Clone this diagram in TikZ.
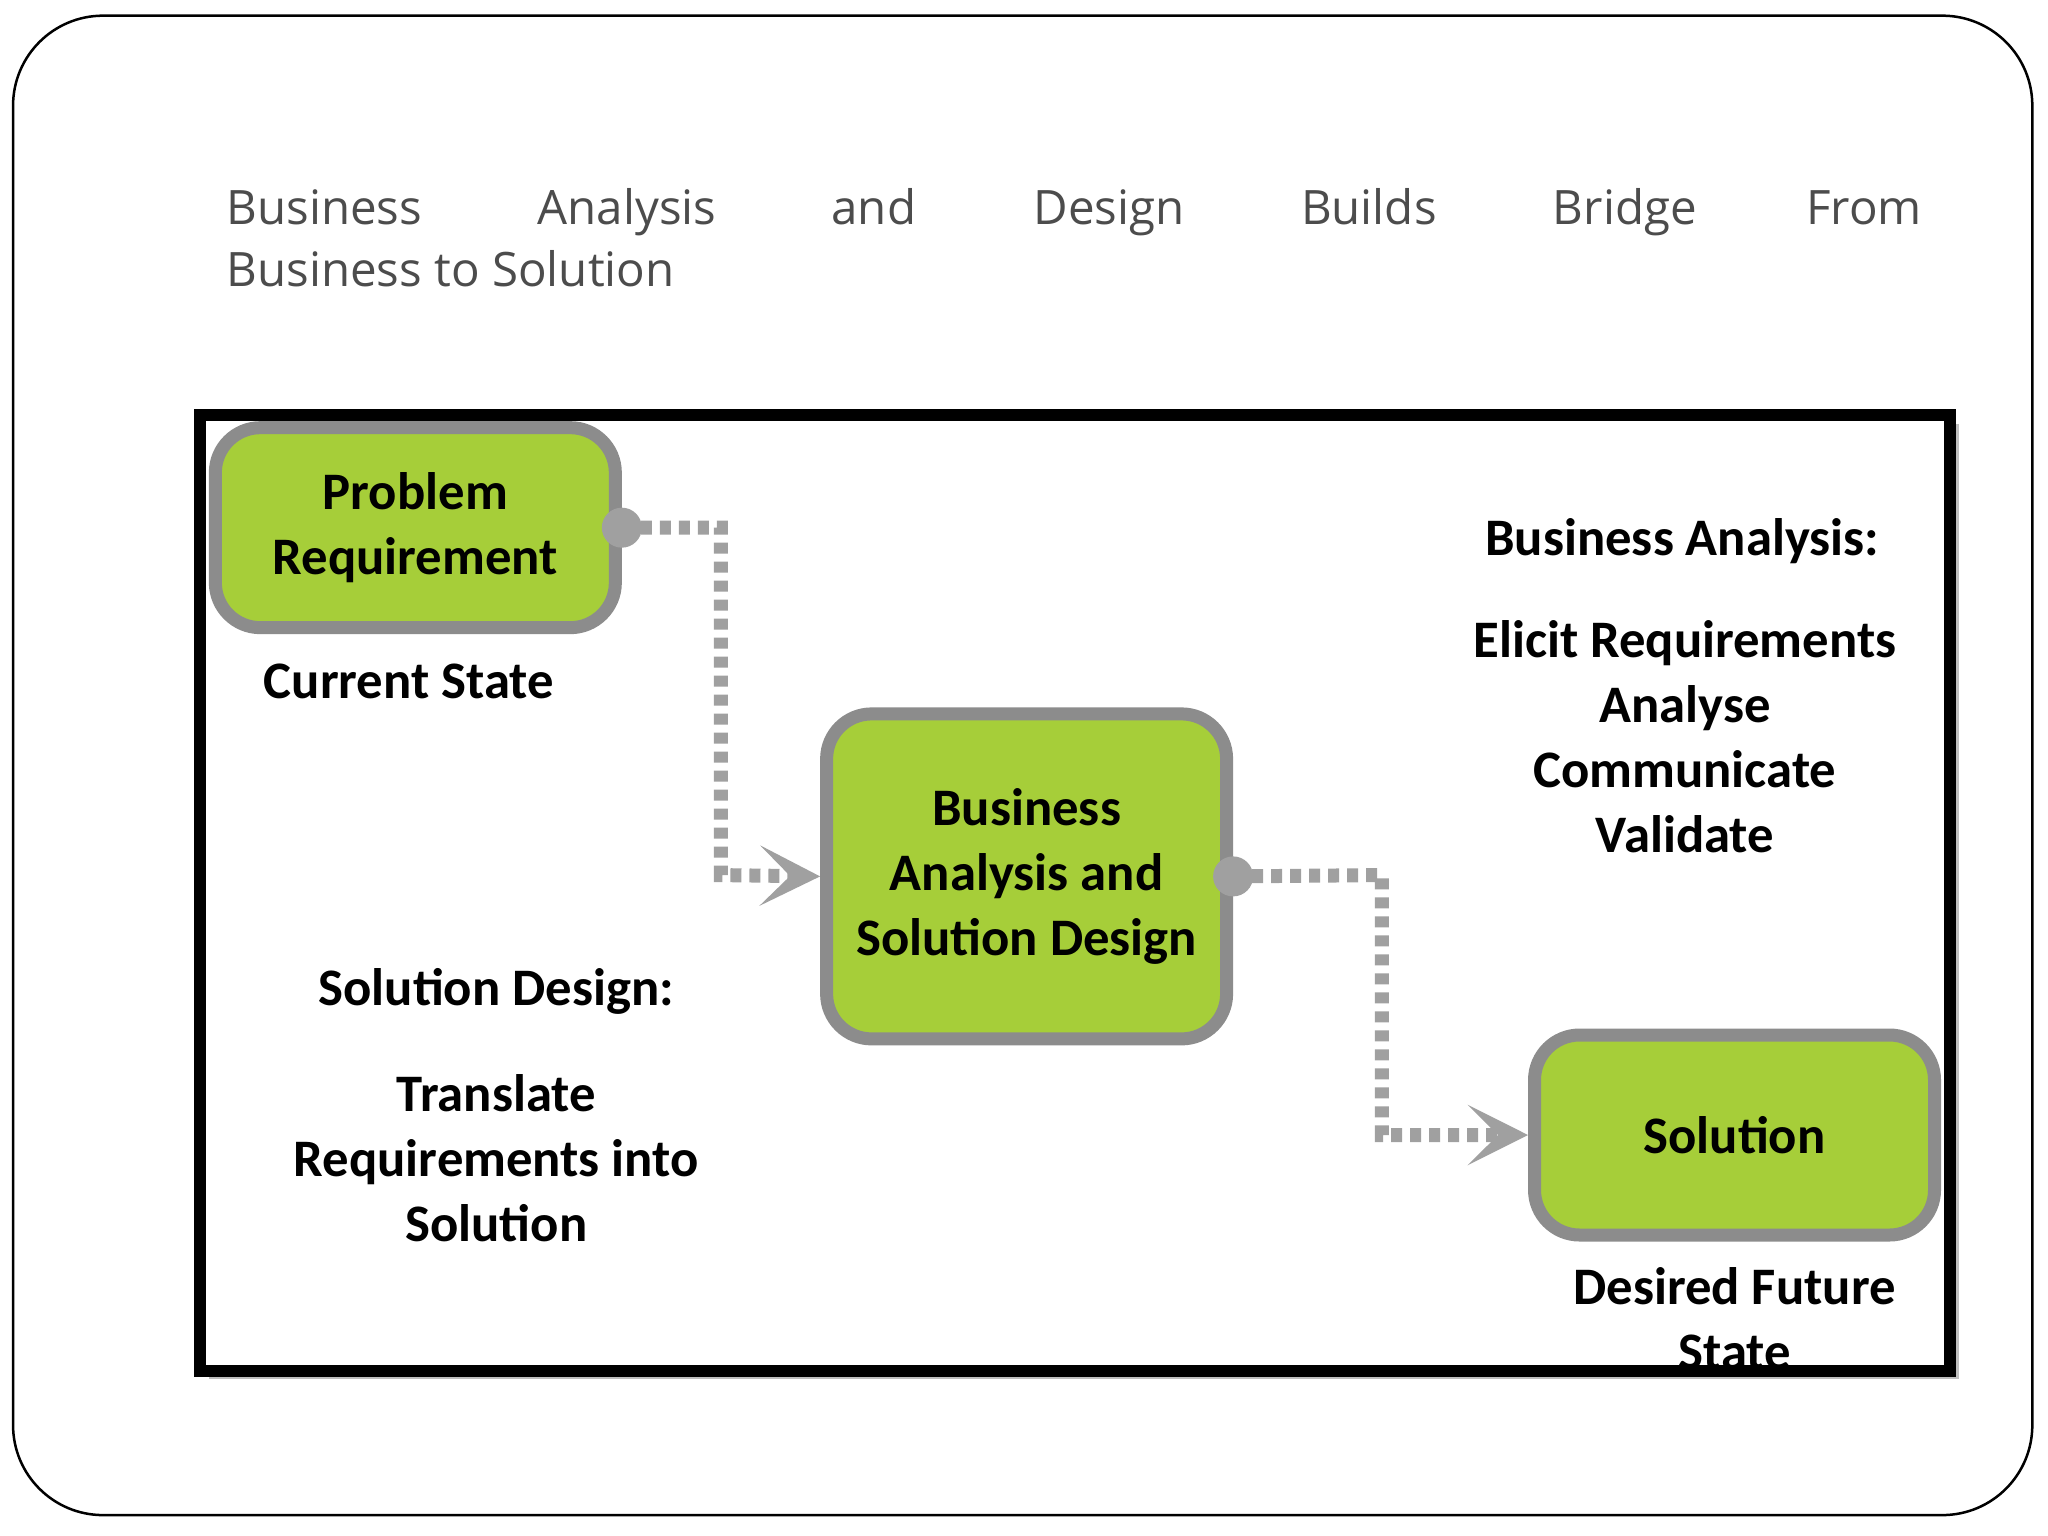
\documentclass[tikz,border=0pt]{standalone}
\usepackage{fontspec}
\setmainfont{Carlito}
\newfontfamily\titlefont{Open Sans}
\usetikzlibrary{arrows.meta}
\definecolor{lime}{HTML}{A6CE39}
\definecolor{bordergrey}{HTML}{8C8C8C}
\definecolor{dotgrey}{HTML}{A0A0A0}
\begin{document}
\begin{tikzpicture}[x=0.013061cm,y=-0.013061cm,
  gbox/.style={draw=bordergrey,line width=1.3mm,fill=lime,rounded corners=4.5mm,align=center,font=\fontsize{15}{18.5}\selectfont\bfseries},
  lbl/.style={align=center,font=\fontsize{15}{18.5}\selectfont\bfseries},
  conn/.style={draw=dotgrey,line width=1.4mm,dash pattern=on 1.1mm off 0.8mm,
    -{Stealth[length=6mm,width=6mm,inset=3mm,fill=dotgrey]}},
  dot/.style={circle,fill=dotgrey,inner sep=0pt,minimum size=4mm}]
\useasboundingbox (0,0) rectangle (1568,1176);
\fill[white] (0,0) rectangle (1568,1176);
\draw[line width=0.25mm,rounded corners=9mm] (10,12) rectangle (1556,1160);
% title
\begin{scope}[every node/.style={inner sep=0pt,text=black!70,font=\titlefont\fontsize{13.5}{16}\selectfont}]
\node[anchor=base west] (t1) at (173,172) {Business};
\node[anchor=base] (t2) at (480,172) {Analysis};
\node[anchor=base] (t3) at (669,172) {and};
\node[anchor=base] (t4) at (849,172) {Design};
\node[anchor=base] (t5) at (1048,172) {Builds};
\node[anchor=base] (t6) at (1244,172) {Bridge};
\node[anchor=base east] (t7) at (1472,172) {From};
\node[anchor=base west] (t8) at (173,219) {Business to Solution};
\end{scope}
% frame
\fill[black!25] (160,325) rectangle (1500,1056);
\draw[line width=1.2mm,fill=white] (153,318) rectangle (1493,1050);
% boxes
\node[gbox,minimum width=4.0cm,minimum height=2.0cm] (b1) at (318,404) {Problem\\Requirement};
\node[gbox,minimum width=4.0cm,minimum height=3.25cm] (b2) at (786,671) {Business\\Analysis and\\Solution Design};
\node[gbox,minimum width=4.0cm,minimum height=2.0cm] (b3) at (1328,869) {Solution};
% connectors
\node[dot] (d1) at (b1.east) {};
\node[dot] (d2) at (b2.east) {};
\coordinate (c1) at (552,404);
\coordinate (c2) at (552,670);
\coordinate (c3) at (1058,670);
\coordinate (c4) at (1058,869);
\draw[conn] (d1.center) -- (c1) -- (c2) -- (b2.west);
\draw[conn] (d2.center) -- (c3) -- (c4) -- (b3.west);
% labels
\node[lbl] (l1) at (313,522) {Current State};
\node[lbl] (l2) at (1288,414) {Business Analysis:};
\node[lbl] (l3) at (1290,564) {Elicit Requirements\\Analyse\\Communicate\\Validate};
\node[lbl] (l4) at (380,759) {Solution Design:};
\node[lbl] (l5) at (380,887) {Translate\\Requirements into\\Solution};
\node[lbl] (l6) at (1328,1010) {Desired Future\\State};
\end{tikzpicture}
\end{document}
